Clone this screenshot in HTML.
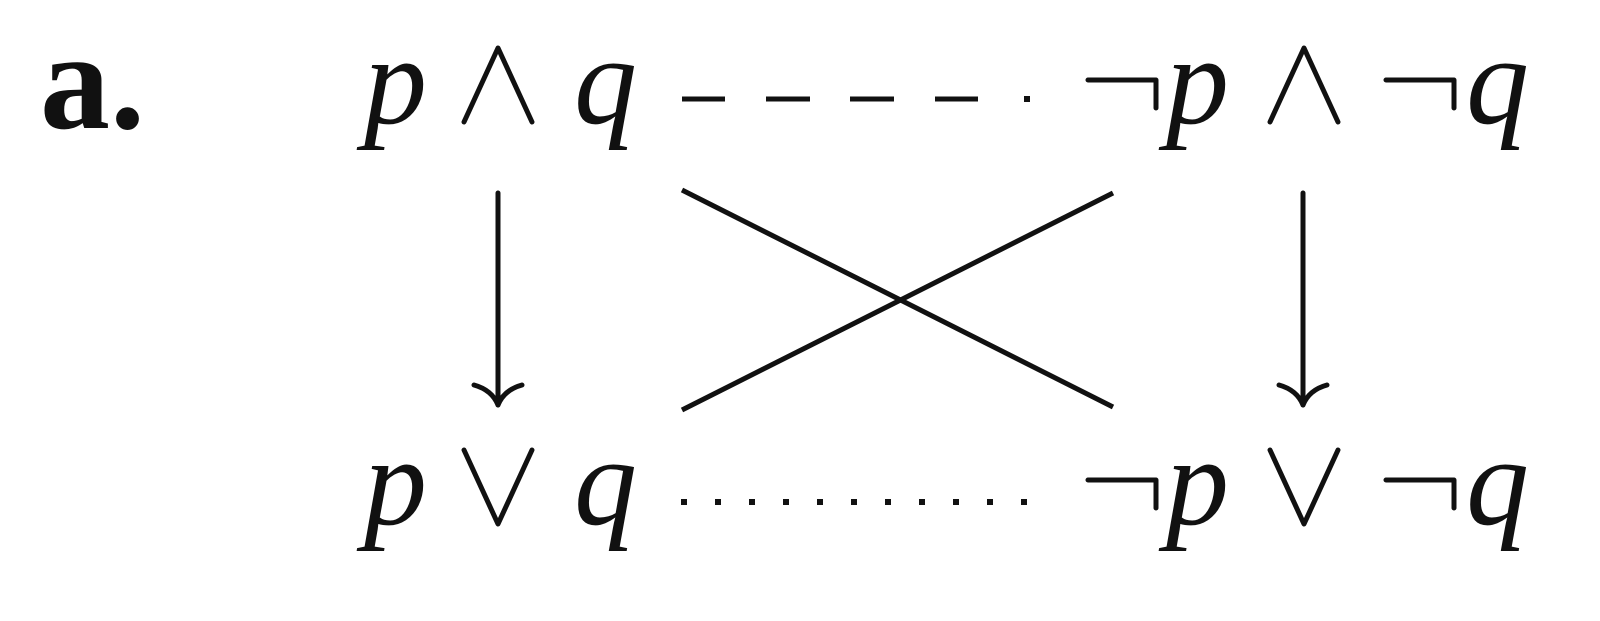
<!DOCTYPE html>
<html><head><style>html,body{margin:0;padding:0;background:#fff}svg{display:block}</style></head>
<body>
<svg width="1600" height="621" viewBox="0 0 1600 621" xmlns="http://www.w3.org/2000/svg">
<g style="font-family:'Liberation Serif',serif" fill="#111">
<text x="40" y="128" font-size="140" font-weight="bold">a.</text>
<g font-style="italic" font-size="126">
<text x="364" y="123">p</text>
<text x="574" y="123">q</text>
<text x="1166" y="123">p</text>
<text x="1466" y="123">q</text>
<text x="364" y="524">p</text>
<text x="574" y="524">q</text>
<text x="1166" y="524">p</text>
<text x="1466" y="524">q</text>
</g>
</g>
<g stroke="#111" stroke-width="5" fill="none" stroke-linecap="round" stroke-linejoin="round">
<path d="M464,122 L498,48 L532,122"/>
<path d="M1270,122 L1304,48 L1338,122"/>
<path d="M464,450 L498,524 L532,450"/>
<path d="M1270,450 L1304,524 L1338,450"/>
<path d="M1088,80 L1156,80 L1156,108"/>
<path d="M1386,80 L1454,80 L1454,108"/>
<path d="M1088,480 L1156,480 L1156,508"/>
<path d="M1386,480 L1454,480 L1454,508"/>
<path d="M498,193 L498,405"/>
<path d="M474,385 Q492,390 498,405 Q504,390 522,385"/>
<path d="M1303,193 L1303,405"/>
<path d="M1279,385 Q1297,390 1303,405 Q1309,390 1327,385"/>
<path d="M682,190 L1113,407" stroke-linecap="butt"/>
<path d="M682,410 L1113,193" stroke-linecap="butt"/>
<path d="M682,99 L725,99 M766,99 L810,99 M850,99 L894,99 M935,99 L978,99" stroke-linecap="butt"/>
</g>
<rect x="1024" y="96" width="6" height="6" fill="#111"/>
<g fill="#111">
<rect x="681" y="499" width="6" height="6"/>
<rect x="715" y="499" width="6" height="6"/>
<rect x="749" y="499" width="6" height="6"/>
<rect x="783" y="499" width="6" height="6"/>
<rect x="817" y="499" width="6" height="6"/>
<rect x="851" y="499" width="6" height="6"/>
<rect x="885" y="499" width="6" height="6"/>
<rect x="919" y="499" width="6" height="6"/>
<rect x="953" y="499" width="6" height="6"/>
<rect x="987" y="499" width="6" height="6"/>
<rect x="1021" y="499" width="6" height="6"/>
</g>
</svg>
</body></html>
